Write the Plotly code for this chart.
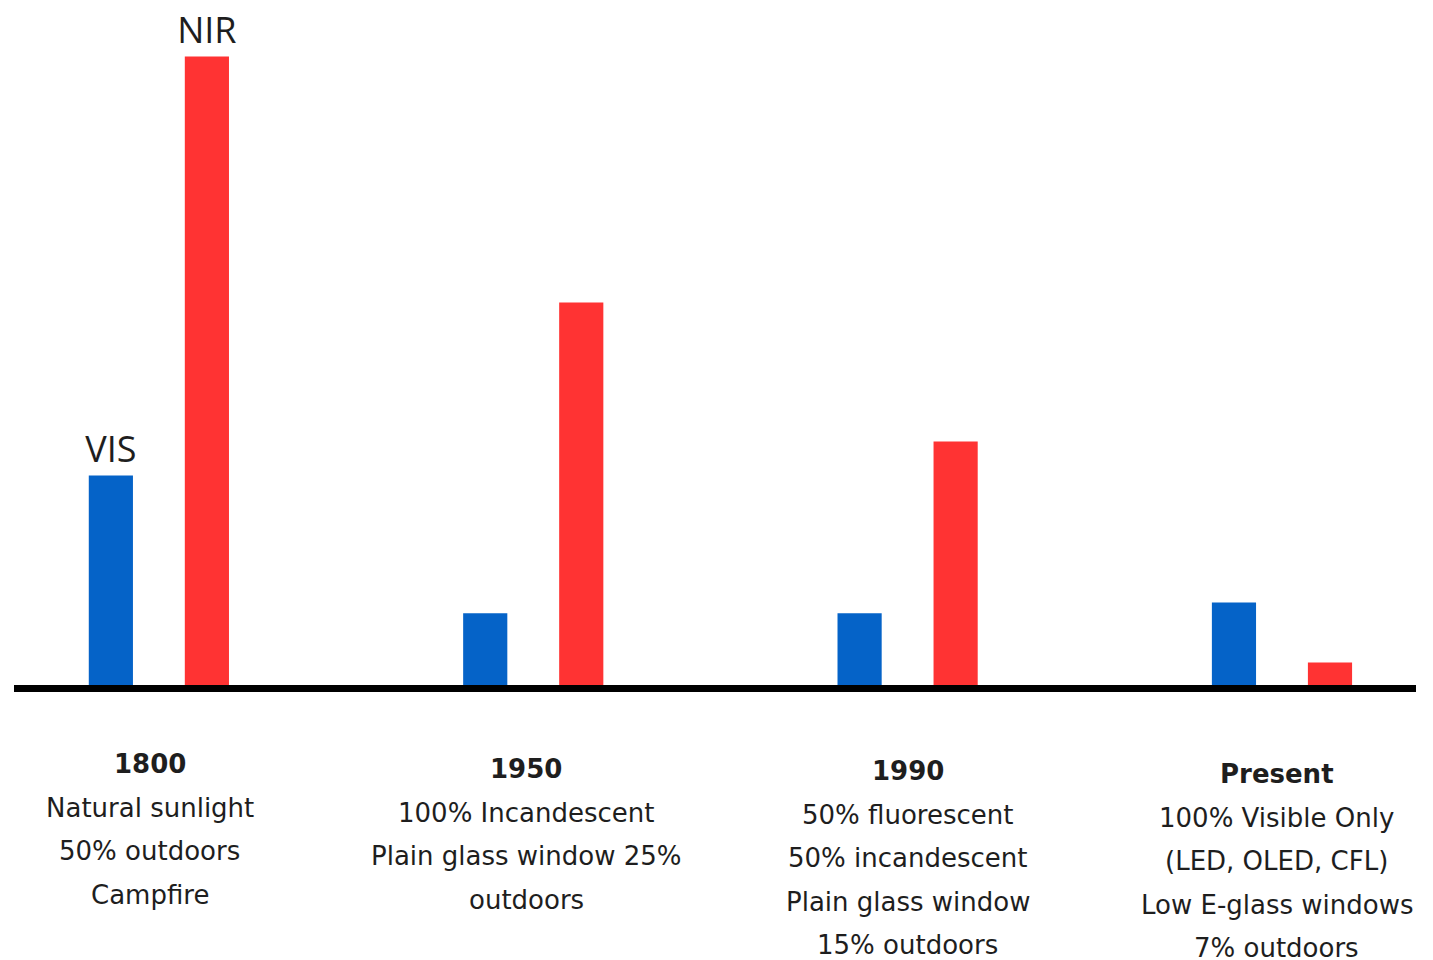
import plotly.graph_objects as go

categories = ["1800", "1950", "1990", "Present"]
vis_values = [33.7, 11.9, 11.9, 13.6]
nir_values = [100.0, 61.1, 39.1, 4.1]
vis_labels = ["VIS", "", "", ""]
nir_labels = ["NIR", "", "", ""]
group_titles = ["1800", "1950", "1990", "Present"]
group_lines = [
    ["Natural sunlight", "50% outdoors", "Campfire"],
    ["100% Incandescent", "Plain glass window 25%", "outdoors"],
    ["50% fluorescent", "50% incandescent", "Plain glass window", "15% outdoors"],
    ["100% Visible Only", "(LED, OLED, CFL)", "Low E-glass windows", "7% outdoors"],
]

FONT = "Open Sans"
LFONT = "DejaVu Sans"
TXT = "#1e1e1e"
W, H = 1433, 960
M_L, M_R, M_T, M_B = 14, 17, 25, 262
Y_LO, Y_HI = -1.5, 105

fig = go.Figure()
fig.add_trace(go.Bar(
    x=categories, y=vis_values, name="VIS", marker_color="#0563C8",
    marker_line_width=0, text=vis_labels, textposition="outside",
    constraintext="none",
    textfont=dict(family=FONT, size=36, color=TXT), cliponaxis=False,
))
fig.add_trace(go.Bar(
    x=categories, y=nir_values, name="NIR", marker_color="#FF3333",
    marker_line_width=0, text=nir_labels, textposition="outside",
    constraintext="none",
    textfont=dict(family=FONT, size=36, color=TXT), cliponaxis=False,
))

# baseline
fig.add_shape(type="line", xref="paper", yref="y", x0=0, x1=1, y0=0, y1=0,
              line=dict(color="black", width=7), layer="above")

first_line_py = [764, 769, 771, 774]
label_xshift = [-9, -7, 0, -5]
line_step = 43.5
annotations = []
for i, cat in enumerate(categories):
    lines = [f"<b>{group_titles[i]}</b>"] + group_lines[i]
    for j, ln in enumerate(lines):
        py = first_line_py[i] + j * line_step
        annotations.append(dict(
            x=i, xref="x", y=0, yref="paper", yanchor="middle",
            xshift=label_xshift[i],
            yshift=(H - M_B) - py, text=ln, showarrow=False,
            font=dict(family=LFONT, size=26, color=TXT),
        ))

fig.update_layout(
    width=W, height=H,
    margin=dict(l=M_L, r=M_R, t=M_T, b=M_B),
    paper_bgcolor="white", plot_bgcolor="white",
    barmode="group", bargap=0.487, bargroupgap=0.54,
    showlegend=False,
    annotations=annotations,
    xaxis=dict(type="category", range=[-0.387, 3.358], showticklabels=False,
               showgrid=False, zeroline=False, showline=False, ticks=""),
    yaxis=dict(range=[Y_LO, Y_HI], visible=False, showgrid=False, zeroline=False),
)

fig.write_html("out.html")
